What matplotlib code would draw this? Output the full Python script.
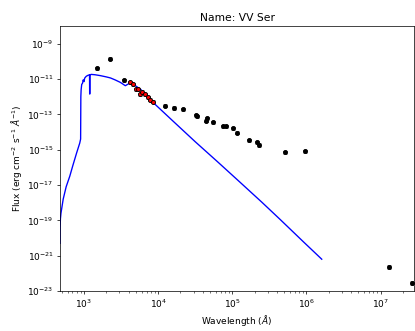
import numpy as np
import matplotlib
matplotlib.use("Agg")
import matplotlib.pyplot as plt

title = "Name: VV Ser"

# Model SED (log10 wavelength [A], log10 flux)
model_logwl = [2.677, 2.678, 2.683, 2.690, 2.72, 2.76, 2.809, 2.85, 2.90, 2.943, 2.955,
               2.958, 2.962, 2.970, 2.98, 2.99, 3.00, 3.01, 3.03, 3.05, 3.075, 3.077,
               3.079, 3.081, 3.10, 3.15, 3.222, 3.30, 3.357, 3.42, 3.49, 3.558, 3.59,
               3.626, 3.70, 3.76, 3.85, 3.94, 4.20, 4.50, 4.80, 5.093, 5.40, 5.65,
               5.95, 6.206]
model_logf = [-20.3, -19.4, -18.9, -18.6, -17.8, -17.1, -16.5, -15.9, -15.2, -14.63, -14.4,
              -12.0, -11.6, -11.3, -11.25, -11.05, -11.15, -10.95, -10.85, -10.8, -10.76, -11.85,
              -11.85, -10.76, -10.74, -10.76, -10.81, -10.88, -10.94, -11.05, -11.19, -11.38, -11.3,
              -11.23, -11.4, -11.57, -11.95, -12.36, -13.38, -14.55, -15.68, -16.80, -17.98, -18.97,
              -20.18, -21.20]

# Photometry (black)
phot_logwl = [3.178, 3.357, 3.545, 4.087, 4.214, 4.330, 4.510, 4.530, 4.640, 4.660, 4.743,
              4.873, 4.909, 5.003, 5.057, 5.230, 5.331, 5.358, 5.712, 5.977, 7.112, 7.421]
phot_logf = [-10.38, -9.85, -11.08, -12.50, -12.63, -12.72, -13.06, -13.12, -13.35, -13.23, -13.44,
             -13.66, -13.66, -13.78, -14.04, -14.46, -14.59, -14.73, -15.16, -15.10, -21.63, -22.54]

# Fitted photometry (red)
fit_logwl = [3.626, 3.662, 3.697, 3.733, 3.760, 3.783, 3.818, 3.864, 3.891, 3.926]
fit_logf = [-11.17, -11.30, -11.57, -11.57, -11.85, -11.72, -11.87, -12.04, -12.17, -12.28]

W, H = 415, 331
dpi = 64.8
fig = plt.figure(figsize=(W / dpi, H / dpi), dpi=dpi)
ax = fig.add_axes([60 / W, (H - 291) / H, 354 / W, 265 / H])

mwl = 10 ** np.array(model_logwl)
mf = 10 ** np.array(model_logf)
ax.plot(mwl, mf, color='blue', lw=1.5, zorder=2)

pwl = 10 ** np.array(phot_logwl)
pf = 10 ** np.array(phot_logf)
ax.errorbar(pwl, pf, yerr=0.2 * pf, fmt='o', color='black', ms=4.5, ecolor='gray',
            capsize=2, elinewidth=1, zorder=3)

fwl = 10 ** np.array(fit_logwl)
ff = 10 ** np.array(fit_logf)
ax.errorbar(fwl, ff, yerr=0.2 * ff, fmt='o', mfc='red', mec='black', ms=4.5, ecolor='gray',
            capsize=2, elinewidth=1, zorder=4)

ax.set_xscale('log')
ax.set_yscale('log')
ax.set_xlim(10 ** 2.677, 10 ** 7.45)
ax.set_ylim(1e-23, 1e-8)
ax.set_yticks([10.0 ** k for k in range(-23, -8, 2)])
ax.yaxis.set_minor_locator(matplotlib.ticker.NullLocator())
ax.set_xlabel(r'Wavelength ($\AA$)')
ax.set_ylabel(r'Flux (erg cm$^{-2}$ s$^{-1}$ $\AA^{-1}$)')
ax.set_title(title)

fig.savefig('out.png', dpi=dpi)
